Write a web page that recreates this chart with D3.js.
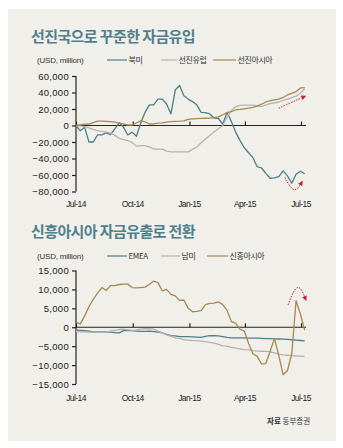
<!DOCTYPE html>
<html>
<head>
<meta charset="utf-8">
<script src="https://cdn.jsdelivr.net/npm/d3@7"></script>
<style>
  body { margin: 0; background: #fff; }
  text { font-family: "Liberation Sans", Arial, sans-serif; }
  .kr { font-family: "Noto Sans CJK KR", sans-serif; }
</style>
</head>
<body>
<div id="chart"></div>
<script>
// weekly flows, USD million, Jul-14 .. Jul-15
var northAmerica = [0, -6500, -2000, -20000, -20000, -11300, -11300, -9000, -11000, -4000,
  3300, -2000, -11500, -8000, -13000, 3000, 16000, 25000, 25000, 32000,
  32000, 26000, 14000, 43000, 48500, 36000, 32000, 29000, 25000, 16000,
  15500, 14000, 9000, 8500, 1500, 16000, 5000, -8000, -18000, -27000,
  -33000, -39000, -50000, -51500, -58000, -64000, -63500, -62000, -55000, -61000,
  -70000, -59000, -55500, -58500];
var devEurope = [0, -500, -1500, -3000, -4800, -6300, -7000, -8000, -9000, -12000,
  -15500, -17000, -18200, -20500, -25000, -24500, -24500, -26000, -28500, -28700,
  -28700, -31000, -31900, -31900, -31900, -31900, -31900, -29000, -26000, -21000,
  -16500, -12000, -8000, -4000, 0, 10000, 18000, 23000, 24500, 24600,
  24600, 24600, 23900, 23000, 25000, 26500, 27500, 28500, 30500, 32000,
  33700, 35500, 39000, 44500];
var devAsia = [0, 1000, 1600, 1800, 3500, 5200, 5200, 5000, 4600, 4000,
  3000, 2000, 600, 400, 3000, 5700, 4500, 1800, 2000, 2800,
  3300, 4200, 4600, 5000, 5200, 5700, 7300, 8000, 8300, 8600,
  8800, 9000, 9600, 10500, 13000, 15500, 16700, 19000, 19500, 20200,
  21000, 22000, 23500, 25800, 28500, 30000, 31000, 32000, 34000, 37000,
  39000, 41000, 45500, 46000];

var emea = [-700, -800, -900, -1000, -1200, -1200, -1200, -1200, -1300, -1400,
  -1500, -900, -800, -900, -1000, -1100, -1100, -1050, -1150, -1300,
  -1500, -1900, -2200, -2300, -2500, -2500, -2500, -2550, -2600, -2650,
  -2400, -2200, -2250, -2300, -2500, -2700, -2800, -2800, -2800, -2800,
  -2850, -2900, -2900, -2950, -3000, -3000, -3050, -3100, -3150, -3200,
  -3300, -3400, -3500, -3600];
var latAm = [-1100, -1200, -1300, -1300, -1300, -1300, -1300, -1200, -1000, -800,
  -600, -500, -700, -800, -700, -500, -400, -400, -500, -1000,
  -1500, -2000, -2400, -2800, -3000, -3300, -3400, -3500, -3550, -3650,
  -3800, -4000, -4200, -4500, -4900, -5000, -5300, -5500, -5700, -5900,
  -6000, -6200, -6300, -6350, -6400, -6500, -6800, -7100, -7300, -7400,
  -7500, -7600, -7650, -7700];
var emAsia = [1300, 900, 3000, 5400, 7400, 9000, 10500, 9700, 11000, 11000,
  11300, 11400, 11400, 10500, 10400, 10500, 10600, 11300, 12200, 11800,
  9600, 10000, 8700, 8300, 7100, 7200, 5000, 4100, 4200, 4400,
  6000, 6300, 6400, 6700, 6000, 4500, 1500, 1100, -500, -1000,
  -4300, -7000, -7700, -9700, -9600, -6300, -3000, -7500, -12500, -11500,
  -7000, 7000, 3500, -800];

var xTicks = ["2014-07-01", "2014-10-01", "2015-01-01", "2015-04-01", "2015-07-01"];
var xTickLabels = ["Jul-14", "Oct-14", "Jan-15", "Apr-15", "Jul-15"];
var topTicks = [60000, 40000, 20000, 0, -20000, -40000, -60000, -80000];
var bottomTicks = [15000, 10000, 5000, 0, -5000, -10000, -15000];

var parse = d3.timeParse("%Y-%m-%d");
var start = parse("2014-07-01");
var weeks = d3.range(northAmerica.length).map(function(i){ return d3.timeDay.offset(start, 7 * i); });

var colTeal = "#4d7f89", colGray = "#b3b3b3", colGold = "#a9884f", colRed = "#c4262e";

var svg = d3.select("#chart").append("svg")
  .attr("width", 343).attr("height", 448);

svg.append("rect").attr("x", 8).attr("y", 9).attr("width", 328).attr("height", 432)
  .attr("fill", "#f0efea");

var defs = svg.append("defs");
defs.append("marker").attr("id", "arr")
  .attr("viewBox", "0 0 10 10").attr("refX", 8).attr("refY", 5)
  .attr("markerWidth", 5).attr("markerHeight", 5).attr("orient", "auto")
  .append("path").attr("d", "M0,0L10,5L0,10z").attr("fill", colRed);

var x = d3.scaleTime().domain([parse("2014-07-01"), parse("2015-07-01")]).range([76, 301]);

function drawChart(opt) {
  var g = svg.append("g");
  var y = d3.scaleLinear().domain(opt.domain).range(opt.range);

  g.append("text").attr("class", "kr").attr("x", 31).attr("y", opt.titleY)
    .attr("font-size", 15).attr("font-weight", "bold").attr("letter-spacing", -0.6)
    .attr("fill", "#4f7f8a").text(opt.title);

  // legend
  g.append("text").attr("x", 37).attr("y", opt.legendY + 3)
    .attr("font-size", 8).attr("fill", "#333").attr("letter-spacing", -0.2).text("(USD, million)");
  opt.series.forEach(function(s){
    g.append("line").attr("x1", s.lx).attr("x2", s.lx + s.lw)
      .attr("y1", opt.legendY).attr("y2", opt.legendY)
      .attr("stroke", s.color).attr("stroke-width", 1.2);
    g.append("text").attr("class", "kr").attr("x", s.lx + s.lw + 1.5).attr("y", opt.legendY + 3)
      .attr("font-size", 8).attr("letter-spacing", -0.4).attr("fill", "#333").text(s.name);
  });

  // y axis
  var yAxis = d3.axisLeft(y).tickValues(opt.ticks).tickSize(4).tickPadding(3)
    .tickFormat(d3.format(","));
  var ya = g.append("g").attr("transform", "translate(76,0)").call(yAxis);
  ya.select(".domain").attr("d", "M0," + y(opt.domain[1]) + "V" + y(opt.domain[0]))
    .attr("stroke", "#222").attr("stroke-width", 1.2);
  ya.selectAll(".tick line").attr("stroke", "#222").attr("stroke-width", 1.2);
  ya.selectAll(".tick text").attr("font-size", 9.5).attr("fill", "#222")
    .attr("letter-spacing", 0.3).attr("font-family", "Liberation Sans, Arial, sans-serif");

  // zero line with upward ticks
  var y0 = y(0);
  var xAxis = d3.axisTop(x).tickValues(xTicks.map(parse)).tickSize(4).tickFormat("");
  var xa = g.append("g").attr("transform", "translate(0," + y0 + ")").call(xAxis);
  xa.select(".domain").attr("d", "M76,0H306").attr("stroke", "#222").attr("stroke-width", 1.2);
  xa.selectAll(".tick line").attr("stroke", "#222").attr("stroke-width", 1.2);

  g.selectAll(".xl").data(xTicks).enter().append("text")
    .attr("x", function(d){ return x(parse(d)); }).attr("y", opt.labelY)
    .attr("text-anchor", "middle").attr("font-size", 8.5).attr("letter-spacing", -0.6)
    .attr("fill", "#222")
    .text(function(d, i){ return xTickLabels[i]; });

  var line = d3.line().x(function(d, i){ return x(weeks[i]); }).y(function(d){ return y(d); });
  opt.series.forEach(function(s){
    g.append("path").datum(s.values).attr("d", line)
      .attr("fill", "none").attr("stroke", s.color).attr("stroke-width", 1.3)
      .attr("stroke-linejoin", "round");
  });

  // red dotted arrows
  var aline = d3.line().curve(d3.curveBasis)
    .x(function(d){ return x(parse(d[0])); }).y(function(d){ return y(d[1]); });
  opt.arrows.forEach(function(a){
    g.append("path").datum(a).attr("d", aline)
      .attr("fill", "none").attr("stroke", colRed).attr("stroke-width", 1)
      .attr("stroke-dasharray", "1.5,1.2").attr("marker-end", "url(#arr)");
  });
}

drawChart({
  title: "선진국으로 꾸준한 자금유입",
  titleY: 42, legendY: 60, labelY: 207,
  domain: [-80000, 60000], range: [191.5, 76], ticks: topTicks,
  series: [
    { name: "북미", values: northAmerica, color: colTeal, lx: 107, lw: 20 },
    { name: "선진유럽", values: devEurope, color: colGray, lx: 161, lw: 16 },
    { name: "선진아시아", values: devAsia, color: colGold, lx: 213, lw: 23 }
  ],
  arrows: [
    [["2015-05-26", 21000], ["2015-06-17", 28500], ["2015-07-08", 35500]],
    [["2015-06-05", -63000], ["2015-06-20", -84000], ["2015-07-03", -68000]]
  ]
});

drawChart({
  title: "신흥아시아 자금유출로 전환",
  titleY: 237, legendY: 256, labelY: 401,
  domain: [-15000, 15000], range: [384, 270.5], ticks: bottomTicks,
  series: [
    { name: "EMEA", values: emea, color: colTeal, lx: 107, lw: 20 },
    { name: "남미", values: latAm, color: colGray, lx: 161, lw: 19 },
    { name: "신흥아시아", values: emAsia, color: colGold, lx: 207, lw: 21 }
  ],
  arrows: [
    [["2015-06-10", 5900], ["2015-06-26", 12500], ["2015-07-09", 7200]]
  ]
});

// source
var src = svg.append("text").attr("class", "kr").attr("x", 267).attr("y", 424)
  .attr("font-size", 7.5).attr("fill", "#333");
src.append("tspan").attr("font-weight", "bold").text("자료");
src.append("tspan").text(" 동부증권");
</script>
</body>
</html>
